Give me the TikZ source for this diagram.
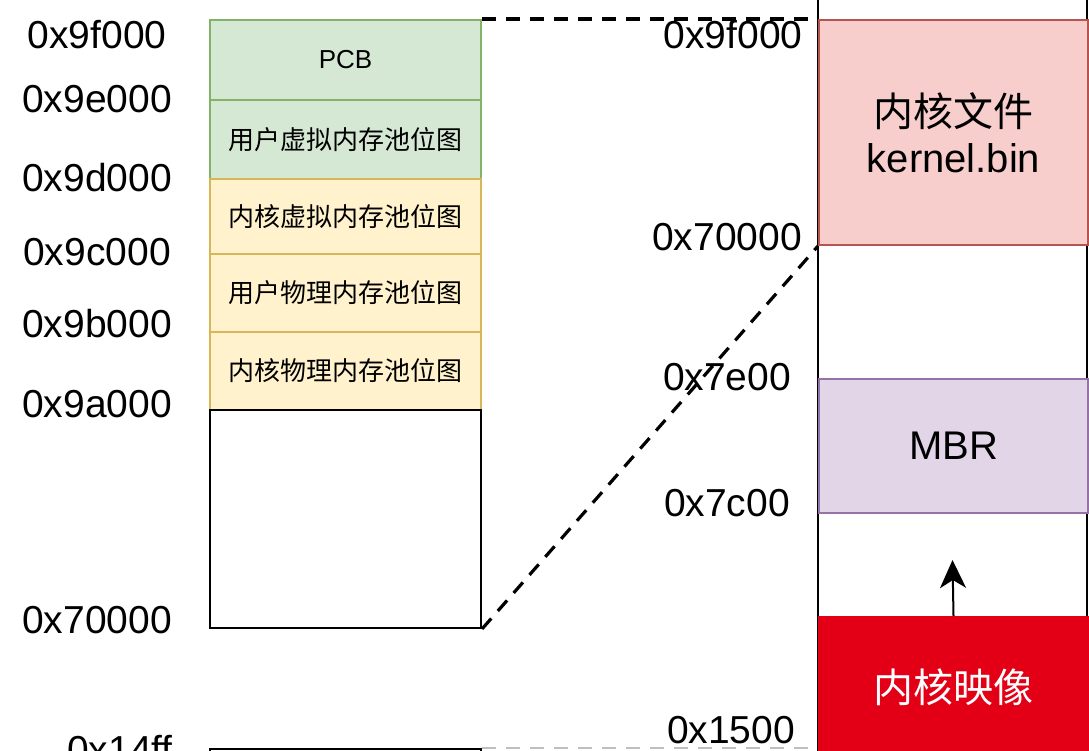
\documentclass[tikz,border=0pt]{standalone}
\usepackage{fontspec}
\setmainfont{Liberation Sans}
\newfontfamily\cjk{Noto Sans CJK SC}
\usepackage{tikz}
\usetikzlibrary{positioning,arrows.meta}

\definecolor{pcbfill}{HTML}{D5E8D4}
\definecolor{pcbline}{HTML}{82B366}
\definecolor{bmfill}{HTML}{FFF2CC}
\definecolor{bmline}{HTML}{D6B656}
\definecolor{kfill}{HTML}{F8CECC}
\definecolor{kline}{HTML}{B85450}
\definecolor{mbrfill}{HTML}{E1D5E7}
\definecolor{mbrline}{HTML}{9673A6}
\definecolor{imgfill}{HTML}{E30016}

\begin{document}
\begin{tikzpicture}[x=1pt,y=-1pt,
  addr/.style={inner sep=0pt, font=\fontsize{39}{39}\selectfont},
  cell/.style={draw, line width=2pt, anchor=north west, inner sep=0pt,
    minimum width=271pt, font=\cjk\fontsize{26}{26}\selectfont},
  greencell/.style={cell, fill=pcbfill, draw=pcbline},
  yellowcell/.style={cell, fill=bmfill, draw=bmline},
  bigcell/.style={cell, minimum width=269pt, align=center, font=\cjk\fontsize{40}{48}\selectfont},
  link/.style={line width=3.2pt, dash pattern=on 14pt off 10pt}]
\clip (0,0) rectangle (1089,750);

% left column
\node[greencell, minimum height=80pt] (pcb) at (209,19) {\rmfamily PCB};
\node[greencell, minimum height=79pt] (uvbm) at (209,99) {用户虚拟内存池位图};
\node[yellowcell, minimum height=75pt] (kvbm) at (209,178) {内核虚拟内存池位图};
\node[yellowcell, minimum height=78pt] (upbm) at (209,253) {用户物理内存池位图};
\node[yellowcell, minimum height=78pt] (kpbm) at (209,331) {内核物理内存池位图};
\node[cell, minimum height=218pt] (free) at (209,409) {};
\node[cell, minimum height=80pt] (low) at (209,748) {};

\node[addr] (a9f) at (97,35) {0x9f000};
\node[addr] (a9e) at (97,99) {0x9e000};
\node[addr] (a9d) at (97,178) {0x9d000};
\node[addr] (a9c) at (97,252) {0x9c000};
\node[addr] (a9b) at (97,324) {0x9b000};
\node[addr] (a9a) at (97,404) {0x9a000};
\node[addr] (a70) at (97,620) {0x70000};
\node[addr] (a14) at (120,750) {0x14ff};

% right column
\draw[line width=2pt] (818,-20) rectangle (1087,800);
\node[bigcell, minimum height=225pt, fill=kfill, draw=kline] (kfile) at (818,19)
  {内核文件\\[-2pt]\rmfamily kernel.bin};
\node[bigcell, minimum height=134pt, fill=mbrfill, draw=mbrline] (mbr) at (818,378)
  {\rmfamily MBR};
\node[bigcell, minimum height=180pt, fill=imgfill, draw=imgfill, text=white] (img) at (818,616)
  {\raisebox{42pt}{内核映像}};

\node[addr] (b9f) at (733,35) {0x9f000};
\node[addr] (b70) at (727,237) {0x70000};
\node[addr] (b7e) at (727,377) {0x7e00};
\node[addr] (b7c) at (727,503) {0x7c00};
\node[addr] (b15) at (731,730) {0x1500};

\coordinate (up) at (952.5,560);
\coordinate (lowend) at (818,748);
\draw[line width=2pt, -{Stealth[length=28pt, width=26pt, inset=8pt]}] (img.north) -- (up);

% dashed links
\draw[link] (pcb.north east) -- (kfile.north west);
\draw[link] (free.south east) -- (kfile.south west);
\draw[link, line width=2pt, draw=black!25] (low.north east) -- (lowend);
\end{tikzpicture}
\end{document}
